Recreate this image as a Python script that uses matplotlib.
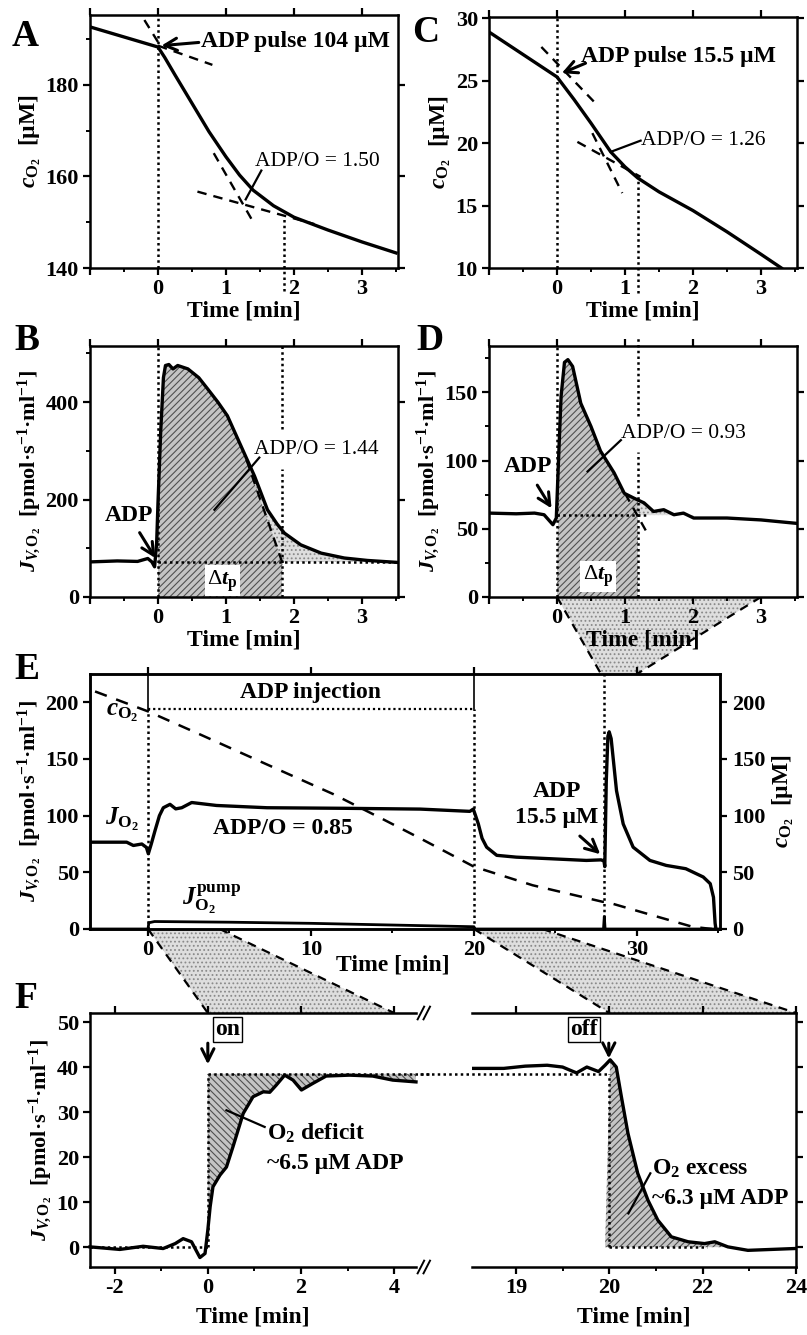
import numpy as np
import matplotlib
matplotlib.use('Agg')
import matplotlib.pyplot as plt
from matplotlib.patches import Polygon
from matplotlib.lines import Line2D

plt.rcParams.update({
    'font.family': ['Liberation Serif', 'DejaVu Serif'],
    'font.weight': 'bold',
    'font.size': 16,
    'axes.labelweight': 'bold',
    'axes.linewidth': 1.8,
    'axes.unicode_minus': False,
    'mathtext.fontset': 'custom',
    'mathtext.rm': 'Liberation Serif:bold',
    'mathtext.it': 'Liberation Serif:italic:bold',
    'mathtext.bf': 'Liberation Serif:bold',
    'xtick.direction': 'out', 'ytick.direction': 'out',
    'xtick.major.size': 5, 'ytick.major.size': 5,
    'xtick.minor.size': 3, 'ytick.minor.size': 3,
    'xtick.major.width': 1.6, 'ytick.major.width': 1.6,
    'xtick.minor.width': 1.4, 'ytick.minor.width': 1.4,
    'xtick.labelsize': 16, 'ytick.labelsize': 16,
    'hatch.linewidth': 0.8,
})

# ---------------- data ----------------
# A: oxygen concentration, 104 uM ADP pulse
a_time = [-1.0, -0.5, 0.0, 0.1, 0.25, 0.5, 0.75, 1.0, 1.2, 1.4, 1.7, 2.0, 2.5, 3.0, 3.5]
a_conc = [192.7, 190.5, 188.3, 186.0, 182.2, 176.0, 169.8, 164.3, 160.3, 157.0, 153.6, 151.1, 148.3, 145.7, 143.3]
a_tangents = [([-0.2, 0.0], [194.2, 189.4]), ([0.0, 0.8], [188.6, 184.4]),
              ([0.82, 1.41], [165.1, 149.8]), ([0.58, 2.3], [156.7, 149.6])]
a_end = 1.85

# C: oxygen concentration, 15.5 uM ADP pulse
c_time = [-1.0, -0.5, 0.0, 0.25, 0.5, 0.79, 1.0, 1.19, 1.5, 2.0, 2.5, 3.0, 3.3]
c_conc = [28.9, 27.1, 25.3, 23.5, 21.6, 19.3, 18.1, 17.2, 16.1, 14.6, 12.9, 11.1, 10.0]
c_tangents = [([-0.23, 0.6], [27.7, 23.0]), ([0.52, 0.96], [20.8, 16.0]),
              ([0.3, 1.23], [20.1, 17.3])]
c_end = 1.19

# B: flux, 104 uM ADP pulse
b_time = [-1.0, -0.6, -0.3, -0.15, -0.09, -0.05, -0.02, 0.0, 0.04, 0.08, 0.11, 0.16, 0.22,
          0.29, 0.44, 0.6, 0.73, 0.88, 1.02, 1.22, 1.42, 1.61, 1.75, 1.86, 2.1, 2.4, 2.74, 3.08, 3.52]
b_flux = [72, 74, 73, 79, 72, 62, 110, 193, 340, 450, 475, 477, 468,
          475, 468, 450, 427, 400, 372, 310, 248, 179, 150, 131, 107, 90, 80, 75, 71]
b_base = 72
b_tangent = ([1.3, 1.83], [282, 70])
b_end = 1.82

# D: flux, 15.5 uM ADP pulse
d_time = [-1.0, -0.6, -0.33, -0.19, -0.06, -0.01, 0.03, 0.06, 0.11, 0.16, 0.23, 0.35, 0.5,
          0.64, 0.84, 0.99, 1.13, 1.28, 1.42, 1.57, 1.72, 1.86, 2.01, 2.5, 3.0, 3.52]
d_flux = [61.5, 61, 61.5, 60.3, 53, 57.9, 110, 147, 172, 174, 169, 142, 125,
          107, 91, 76, 72.5, 69, 62.7, 64, 60.3, 61.5, 57.9, 57.9, 56.5, 54]
d_base = 60
d_tangent = ([1.0, 1.32], [76, 47.5])
d_end = 1.19

# E: whole experiment
e_time = [-3.55, -2.5, -1.31, -0.9, -0.38, -0.1, 0.02, 0.2, 0.43, 0.7, 0.94, 1.35, 1.7, 2.07,
          2.68, 4.2, 7.3, 12.0, 16.7, 19.75, 19.96, 20.1, 20.27, 20.5, 20.78, 21.4, 22.6, 24.7,
          26.9, 27.8, 27.98, 28.03, 28.12, 28.22, 28.3, 28.42, 28.75, 29.16, 29.77, 30.8, 31.8,
          33.0, 34.07, 34.5, 34.7, 34.8, 34.85]
e_flux = [76.6, 76.6, 76.6, 73.7, 75, 72, 66.4, 75, 86.8, 100, 107, 110, 106, 107,
          111.6, 109, 107, 106.5, 105.8, 103.8, 105.8, 100, 92.7, 80, 72.2, 65, 63.4, 62,
          60.5, 61, 60, 55, 130, 170, 174, 168, 122, 92.7, 72.2, 60.5, 56.1,
          53.2, 45.9, 40, 28, 5, 0]
e_conc_time = [-3.25, 0.0, 3.19, 7.28, 11.37, 14.4, 16.7, 20.0, 23.6, 27.9, 28.1, 30.5, 33.4, 34.6]
e_conc = [209.6, 192, 171.7, 145.3, 119, 97, 80, 55, 38.6, 24, 24, 14, 2, 0]
e_pump_time = [-3.55, 0.0, 0.05, 0.4, 5, 10, 15, 20.0, 20.05, 27.95, 28.0, 28.05, 35]
e_pump_flux = [0, 0, 5.5, 6.6, 6.0, 5.0, 3.5, 2.0, 0, 0, 11, 0, 0]
e_injection = (0, 20)
e_pulse = 28

# F: on / off transients
f1_time = [-2.53, -1.89, -1.39, -0.96, -0.7, -0.53, -0.35, -0.17, -0.06, 0.0, 0.05, 0.11, 0.26,
           0.4, 0.54, 0.76, 0.97, 1.19, 1.33, 1.47, 1.65, 1.83, 2.01, 2.26, 2.54, 3.04, 3.54, 3.97, 4.47]
f1_flux = [0.07, -0.5, 0.2, -0.3, 0.8, 1.9, 1.2, -2.3, -1.4, 3.8, 9, 13.4, 16,
           17.8, 22.3, 29.7, 33.4, 34.5, 34.4, 36, 38.2, 37.1, 34.9, 36.4, 38, 38.2, 38, 37.1, 36.7]
f2_time = [17.06, 17.74, 18.2, 18.67, 19.0, 19.16, 19.3, 19.52, 19.77, 19.91, 20.02, 20.15, 20.26,
           20.4, 20.61, 20.83, 21.04, 21.33, 21.69, 22.04, 22.26, 22.54, 22.97, 23.47, 23.97]
f2_flux = [39.7, 39.7, 40.2, 40.4, 40, 39.3, 38.7, 40, 39, 40.4, 41.6, 40, 33.4,
           25.3, 16.4, 10.4, 6, 2.3, 1.2, 0.8, 1.2, 0.07, -0.7, -0.5, -0.3]
f_level = 38.5

short_ticks = [-1, 0, 1, 2, 3]
short_labels = ['', '0', '1', '2', '3']
f2_ticks = [18, 20, 22, 24]
f2_labels = ['19', '20', '22', '24']

# ---------------- layout helpers ----------------
W, H = 807, 1335
fig = plt.figure(figsize=(W / 100, H / 100), dpi=100)

DOT = (0, (1, 1.3))
DASH = (0, (4, 3))
HATCH = dict(facecolor='#c4c4c4', edgecolor='#505050', hatch='/////', lw=0)
STIPPLE = dict(facecolor='#dedede', edgecolor='#8a8a8a', hatch='....', lw=0)
FLUX_LABEL = r'$J_{V\!,\mathrm{O_2}}$  [pmol·s$^{\mathrm{-1}}$·ml$^{\mathrm{-1}}$]'
CONC_LABEL = r'$c_{\mathrm{O_2}}$  [µM]'


def px_axes(left, top, right, bottom):
    return fig.add_axes([left / W, 1 - bottom / H, (right - left) / W, (bottom - top) / H])


def style_short(ax, ylim, yticks, yminor):
    ax.set_xlim(-0.98, 3.53)
    ax.set_ylim(*ylim)
    ax.set_xticks(short_ticks)
    ax.set_xticklabels(short_labels)
    ax.set_xticks(np.arange(-0.5, 3.6, 1.0), minor=True)
    ax.set_yticks(yticks)
    if yminor:
        ax.set_yticks(yminor, minor=True)
    ax.tick_params(which='major', top=True, right=True, pad=3)
    ax.tick_params(which='minor', top=False, right=False)
    ax.set_xlabel('Time [min]', fontsize=17, labelpad=1)


def fig_pt(ax, x, y):
    return fig.transFigure.inverted().transform(ax.transData.transform((x, y)))


def zoom_wedge(ax_top, top_x, top_y, ax_bot, bot_x, bot_y):
    p = [fig_pt(ax_top, top_x[0], top_y), fig_pt(ax_top, top_x[1], top_y),
         fig_pt(ax_bot, bot_x[1], bot_y), fig_pt(ax_bot, bot_x[0], bot_y)]
    fig.add_artist(Polygon(p, closed=True, transform=fig.transFigure, zorder=-2, **STIPPLE))
    for a, b in ((p[0], p[3]), (p[1], p[2])):
        fig.add_artist(Line2D([a[0], b[0]], [a[1], b[1]], transform=fig.transFigure,
                              color='k', lw=1.6, ls=DASH, zorder=-1))


def arrow(ax, start, end):
    ax.annotate('', xy=end, xytext=start,
                arrowprops=dict(arrowstyle='->', lw=2.2, color='k', mutation_scale=22,
                                shrinkA=0, shrinkB=0))


def pointer(ax, start, end):
    ax.plot([start[0], end[0]], [start[1], end[1]], color='k', lw=1.6, zorder=6)


# ---------------- A ----------------
ax_a = px_axes(90, 15, 398, 268)
style_short(ax_a, (140, 195.3), [140, 160, 180], [150, 170, 190])
ax_a.set_ylabel(CONC_LABEL, fontsize=17, labelpad=2)
ax_a.plot(a_time, a_conc, color='k', lw=2.4, zorder=3)
for tx, ty in a_tangents:
    ax_a.plot(tx, ty, color='k', lw=1.7, ls=DASH)
ax_a.axvline(0, color='k', lw=1.8, ls=DOT)
ax_a.plot([a_end, a_end], [135, 151.2], color='k', lw=1.8, ls=DOT, clip_on=False)
ax_a.text(0.63, 189.4, 'ADP pulse 104 µM', fontsize=17, va='center', ha='left')
arrow(ax_a, (0.6, 189.3), (0.05, 188.6))
ax_a.text(1.42, 163.2, 'ADP/O = 1.50', fontsize=15.5, fontweight='normal', va='center')
pointer(ax_a, (1.52, 161.3), (1.29, 155.0))

# ---------------- C ----------------
ax_c = px_axes(489, 17, 797, 268)
style_short(ax_c, (10, 30.1), [10, 15, 20, 25, 30], None)
ax_c.set_ylabel(CONC_LABEL, fontsize=17, labelpad=2)
ax_c.plot(c_time, c_conc, color='k', lw=2.4, zorder=3)
for tx, ty in c_tangents:
    ax_c.plot(tx, ty, color='k', lw=1.7, ls=DASH)
ax_c.axvline(0, color='k', lw=1.8, ls=DOT)
ax_c.plot([c_end, c_end], [8.0, 17.2], color='k', lw=1.8, ls=DOT, clip_on=False)
ax_c.text(0.35, 26.9, 'ADP pulse 15.5 µM', fontsize=17, va='center', ha='left')
arrow(ax_c, (0.42, 26.4), (0.07, 25.6))
ax_c.text(1.23, 20.2, 'ADP/O = 1.26', fontsize=15.5, fontweight='normal', va='center')
pointer(ax_c, (1.23, 20.2), (0.79, 19.3))

# ---------------- B ----------------
ax_b = px_axes(90, 346, 398, 597)
style_short(ax_b, (0, 515), [0, 200, 400], [100, 300, 500])
ax_b.set_ylabel(FLUX_LABEL, fontsize=16, labelpad=2)
bt = np.array(b_time)
bf = np.array(b_flux)
ax_b.fill_between(bt, b_base, bf, where=bt >= b_tangent[0][0], zorder=1, **STIPPLE)
keep = (bt >= 0) & (bt < b_tangent[0][0])
hx = np.concatenate([[0], bt[keep], b_tangent[0], [b_end]])
hy = np.concatenate([[0], bf[keep], b_tangent[1], [0]])
ax_b.fill(hx, hy, zorder=2, **HATCH)
ax_b.plot(bt, bf, color='k', lw=2.4, zorder=4)
ax_b.plot(*b_tangent, color='k', lw=1.7, ls=DASH, zorder=4)
ax_b.plot([0, 3.53], [b_base, b_base], color='k', lw=1.8, ls=DOT, zorder=3)
ax_b.axvline(0, color='k', lw=1.8, ls=DOT, zorder=3)
ax_b.plot([b_end, b_end], [0, 262], color='k', lw=1.8, ls=DOT, zorder=3)
ax_b.plot([b_end, b_end], [345, 515], color='k', lw=1.8, ls=DOT, zorder=3)
ax_b.text(0.95, 33, r'Δ$t_{\mathrm{p}}$', fontsize=16, fontweight='normal', ha='center', va='center',
          bbox=dict(facecolor='white', edgecolor='none', pad=2), zorder=5)
ax_b.text(1.41, 303, 'ADP/O = 1.44', fontsize=15.5, fontweight='normal', va='center', zorder=5)
pointer(ax_b, (1.49, 286), (0.83, 179))
ax_b.text(-0.42, 168, 'ADP', fontsize=17, ha='center', va='center')
arrow(ax_b, (-0.27, 132), (-0.04, 80))

# ---------------- D ----------------
ax_d = px_axes(489, 346, 797, 597)
style_short(ax_d, (0, 184), [0, 50, 100, 150], [25, 75, 125, 175])
ax_d.set_ylabel(FLUX_LABEL, fontsize=16, labelpad=2)
dt = np.array(d_time)
df = np.array(d_flux)
ax_d.fill_between(dt, d_base, df, where=(dt >= 0.9) & (dt <= 2.1), zorder=1, **STIPPLE)
keep = (dt >= 0) & (dt < d_end)
hx = np.concatenate([[0], dt[keep], [d_end, d_end]])
hy = np.concatenate([[0], df[keep], [np.interp(d_end, dt, df), 0]])
ax_d.fill(hx, hy, zorder=2, **HATCH)
ax_d.plot(dt, df, color='k', lw=2.4, zorder=4)
ax_d.plot(*d_tangent, color='k', lw=1.7, ls=DASH, zorder=4)
ax_d.plot([0, 1.35], [d_base, d_base], color='k', lw=1.8, ls=DOT, zorder=3)
ax_d.axvline(0, color='k', lw=1.8, ls=DOT, zorder=3)
ax_d.plot([d_end, d_end], [0, 106], color='k', lw=1.8, ls=DOT, zorder=3)
ax_d.plot([d_end, d_end], [133, 191], color='k', lw=1.8, ls=DOT, zorder=3, clip_on=False)
ax_d.text(0.6, 15, r'Δ$t_{\mathrm{p}}$', fontsize=16, fontweight='normal', ha='center', va='center',
          bbox=dict(facecolor='white', edgecolor='none', pad=2), zorder=5)
ax_d.text(0.94, 120, 'ADP/O = 0.93', fontsize=15.5, fontweight='normal', va='center', zorder=5)
pointer(ax_d, (0.94, 115), (0.45, 92))
ax_d.text(-0.43, 96, 'ADP', fontsize=17, ha='center', va='center')
arrow(ax_d, (-0.29, 82), (-0.08, 65))

# ---------------- E ----------------
ax_e = px_axes(90, 674, 720, 929)
ax_e.set_xlim(-3.56, 35.1)
ax_e.set_ylim(0, 225)
ax_e.set_xticks([0, 10, 20, 30])
ax_e.set_xticks([5, 15, 25, 35], minor=True)
ax_e.set_yticks([0, 50, 100, 150, 200])
ax_e.tick_params(which='major', top=True, right=False, pad=3)
ax_e.tick_params(which='minor', top=False)
ax_e.set_xlabel('Time [min]', fontsize=17, labelpad=-2)
ax_e.xaxis.set_label_coords(0.48, -0.1)
ax_e.set_ylabel(FLUX_LABEL, fontsize=16, labelpad=2)
ax_e2 = ax_e.twinx()
ax_e2.set_ylim(0, 225)
ax_e2.set_yticks([0, 50, 100, 150, 200])
ax_e2.set_ylabel(CONC_LABEL, fontsize=17, labelpad=4)
ax_e2.spines['right'].set_linewidth(1.8)

ax_e.plot(e_time, e_flux, color='k', lw=2.4, zorder=4)
ax_e2.plot(e_conc_time, e_conc, color='k', lw=1.8, ls=(0, (5, 4)))
ax_e.plot(e_pump_time, e_pump_flux, color='k', lw=2.0, zorder=4, clip_on=False)
x0, x1 = e_injection
ax_e.plot([x0, x0], [194.5, 225], color='k', lw=1.2)
ax_e.plot([x1, x1], [194.5, 225], color='k', lw=1.2)
ax_e.plot([x0, x1], [194.5, 194.5], color='k', lw=1.6, ls=DOT)
ax_e.text((x0 + x1) / 2, 208.5, 'ADP injection', fontsize=17, ha='center', va='center')
ax_e.plot([x0, x0], [0, 194.5], color='k', lw=1.8, ls=DOT)
ax_e.plot([x1, x1], [0, 194.5], color='k', lw=1.8, ls=DOT)
ax_e.plot([e_pulse, e_pulse], [0, 225], color='k', lw=1.8, ls=DOT)
ax_e.text(-1.6, 191, r'$c_{\mathrm{O_2}}$', fontsize=18, ha='center', va='center')
ax_e.text(-1.6, 97, r'$J_{\mathrm{O_2}}$', fontsize=18, ha='center', va='center')
ax_e.text(3.9, 26, r'$J_{\mathrm{O_2}}^{\mathrm{pump}}$', fontsize=18, ha='center', va='center')
ax_e.text(8.3, 88.5, 'ADP/O = 0.85', fontsize=17, ha='center', va='center')
ax_e.text(25.1, 121, 'ADP', fontsize=17, ha='center', va='center')
ax_e.text(25.1, 98, '15.5 µM', fontsize=17, ha='center', va='center')
arrow(ax_e, (26.5, 82), (27.75, 66))

# ---------------- F left ----------------
ax_f1 = px_axes(90, 1013, 416, 1267)
ax_f1.set_xlim(-2.53, 4.47)
ax_f1.set_ylim(-4.4, 52)
ax_f1.set_xticks([-2, 0, 2, 4])
ax_f1.set_xticks([-1, 1, 3], minor=True)
ax_f1.set_yticks([0, 10, 20, 30, 40, 50])
ax_f1.tick_params(which='major', top=True, right=False, pad=3)
ax_f1.tick_params(which='minor', top=False)
ax_f1.spines['right'].set_visible(False)
ax_f1.set_xlabel('Time [min]', fontsize=17, labelpad=6)
ax_f1.set_ylabel(FLUX_LABEL, fontsize=16, labelpad=2)
f1t = np.array(f1_time)
f1f = np.array(f1_flux)
ax_f1.fill_between(f1t, f1f, f_level, where=(f1t >= 0) & (f1f < f_level), interpolate=True,
                   zorder=1, facecolor='#c4c4c4', edgecolor='#505050', hatch='\\\\\\\\\\', lw=0)
ax_f1.plot(f1t, f1f, color='k', lw=2.4, zorder=4, clip_on=False)
ax_f1.plot([-2.53, 0], [0, 0], color='k', lw=1.8, ls=DOT, zorder=3)
ax_f1.plot([0, 0], [0, f_level], color='k', lw=1.8, ls=DOT, zorder=3)
ax_f1.plot([0, 4.8], [f_level, f_level], color='k', lw=1.8, ls=DOT, zorder=3, clip_on=False)
ax_f1.text(0.42, 48.3, 'on', fontsize=17, ha='center', va='center',
           bbox=dict(facecolor='white', edgecolor='k', lw=1.0, pad=1.5))
arrow(ax_f1, (0, 45.3), (0, 40.6))
ax_f1.text(1.27, 25.3, r'O$_{\mathrm{2}}$ deficit', fontsize=17, ha='left', va='center')
ax_f1.text(1.27, 18.6, '~6.5 µM ADP', fontsize=17, ha='left', va='center')
pointer(ax_f1, (1.22, 26.7), (0.4, 30.4))

# ---------------- F right ----------------
ax_f2 = px_axes(472, 1013, 796, 1267)
ax_f2.set_xlim(17.06, 24.0)
ax_f2.set_ylim(-4.4, 52)
ax_f2.set_xticks(f2_ticks)
ax_f2.set_xticklabels(f2_labels)
ax_f2.set_xticks([19, 21, 23], minor=True)
ax_f2.set_yticks([0, 10, 20, 30, 40, 50])
ax_f2.tick_params(which='major', top=True, left=False, right=True, labelleft=False, pad=3)
ax_f2.tick_params(which='minor', top=False)
ax_f2.spines['left'].set_visible(False)
ax_f2.set_xlabel('Time [min]', fontsize=17, labelpad=6)
f2t = np.array(f2_time)
f2f = np.array(f2_flux)
ax_f2.fill_between(f2t, 0, f2f, where=(f2t >= 20) & (f2f > 0), interpolate=True, zorder=1, **HATCH)
ax_f2.plot(f2t, f2f, color='k', lw=2.4, zorder=4)
ax_f2.plot([15.95, 20], [f_level, f_level], color='k', lw=1.8, ls=DOT, zorder=3, clip_on=False)
ax_f2.plot([20, 20], [0, f_level], color='k', lw=1.8, ls=DOT, zorder=3)
ax_f2.plot([20, 22.1], [0, 0], color='k', lw=1.8, ls=DOT, zorder=3)
ax_f2.text(19.46, 48.3, 'off', fontsize=17, ha='center', va='center',
           bbox=dict(facecolor='white', edgecolor='k', lw=1.0, pad=1.5))
arrow(ax_f2, (19.99, 45.3), (19.99, 41.9))
ax_f2.text(20.92, 17.5, r'O$_{\mathrm{2}}$ excess', fontsize=17, ha='left', va='center')
ax_f2.text(20.92, 10.8, '~6.3 µM ADP', fontsize=17, ha='left', va='center')
pointer(ax_f2, (20.88, 16.4), (20.41, 7.5))

# axis break marks
for yy in (1.0, 0.0):
    for dx in (0.0, 0.018):
        ax_f1.plot([1.005 + dx, 1.025 + dx], [yy - 0.025, yy + 0.025], transform=ax_f1.transAxes,
                   color='k', lw=1.4, clip_on=False)

# ---------------- zoom wedges between panels ----------------
zoom_wedge(ax_d, (0, 3), 0, ax_e, (27.8, 30.0), 225)
zoom_wedge(ax_e, (0, 4.4), 0, ax_f1, (0, 4), 52)
zoom_wedge(ax_e, (20, 24.2), 0, ax_f2, (20, 24), 52)

# ---------------- panel letters ----------------
for letter, x, y in (('A', 12, 46), ('C', 412, 42), ('B', 14, 350), ('D', 416, 350),
                     ('E', 14, 679), ('F', 14, 1008)):
    fig.text(x / W, 1 - y / H, letter, fontsize=27, fontweight='bold', ha='left', va='baseline')

fig.savefig('out.png', dpi=100)
